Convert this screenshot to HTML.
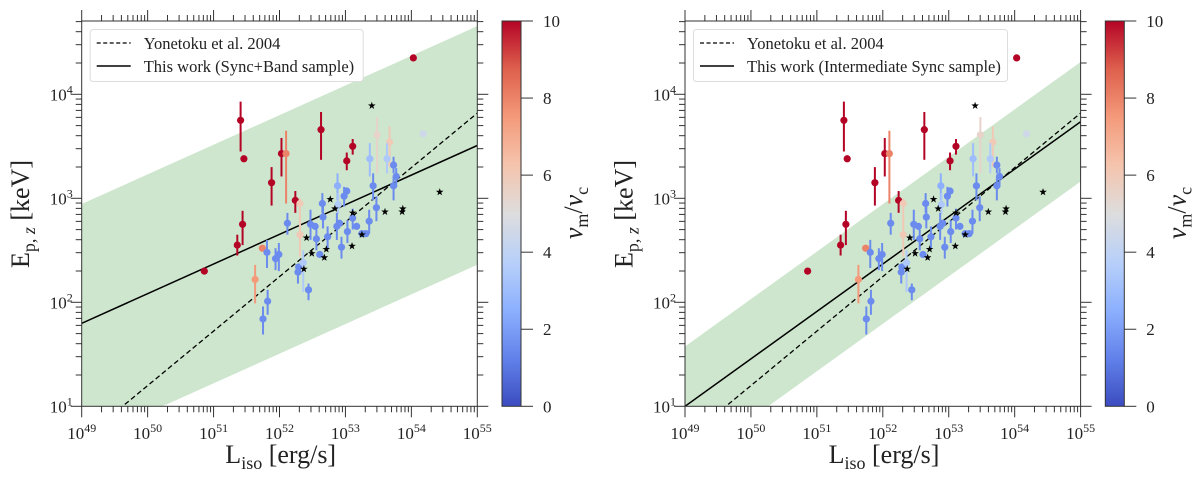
<!DOCTYPE html>
<html><head><meta charset="utf-8">
<style>
html,body{margin:0;padding:0;background:#fff;}
svg{display:block;font-family:"Liberation Serif",serif;}
</style></head>
<body>
<svg id="fig" width="1200" height="478" viewBox="0 0 1200 478" xmlns="http://www.w3.org/2000/svg"></svg>
<script>
// ---- data (log10 L_iso, log10 Ep,z) ----
const logL = [50.86,51.36,51.44,51.41,51.46,51.88,52.03,52.10,52.24,52.63,53.11,53.02,54.03,51.74,51.63,52.31,52.31,53.48,53.67,54.18,
 51.75,51.82,51.81,51.94,51.99,52.12,52.28,52.29,52.36,52.44,52.47,52.54,52.56,52.61,52.65,52.66,52.73,52.88,52.89,52.87,52.91,52.94,52.98,53.02,53.03,53.11,53.17,53.25,53.31,53.36,53.37,53.42,53.47,53.63,53.73,53.77,53.73];
const logE = [2.30,2.55,2.75,3.75,3.38,3.15,3.43,3.43,2.98,3.66,3.50,3.36,4.35,2.52,2.22,2.95,2.65,3.61,3.54,3.62,
 1.84,2.01,2.48,2.42,2.46,2.76,2.29,2.34,2.38,2.12,2.75,2.73,2.61,2.46,2.95,2.82,2.63,3.12,2.94,2.73,2.76,2.53,3.02,3.07,2.68,2.81,2.73,2.66,2.66,2.78,3.38,3.12,2.91,3.38,3.32,3.21,3.12];
const errHi = [2.33,2.65,2.88,3.93,3.40,3.30,3.58,3.65,3.07,3.83,3.57,3.44,4.38,2.55,2.36,3.00,2.84,3.78,3.69,3.65,
 1.96,2.12,2.60,2.52,2.57,2.86,2.34,2.34,2.50,2.18,2.89,2.73,2.70,2.46,3.05,2.92,2.73,3.24,3.05,2.86,2.76,2.63,3.11,3.07,2.79,2.90,2.73,2.66,2.66,2.89,3.53,3.24,3.02,3.53,3.40,3.29,3.21];
const errLo = [2.27,2.45,2.55,3.45,3.36,2.93,3.21,2.95,2.86,3.37,3.42,3.27,4.32,2.49,1.99,2.70,2.44,3.24,3.30,3.59,
 1.69,1.88,2.33,2.31,2.30,2.65,2.18,2.34,2.10,2.02,2.60,2.73,2.50,2.46,2.86,2.71,2.52,2.98,2.85,2.60,2.76,2.42,2.92,3.07,2.57,2.70,2.73,2.66,2.66,2.66,3.21,2.98,2.78,3.24,3.24,3.11,2.98];
const nuRatio = [10,10,10,10,10,10,10,8,10,10,10,10,10,8,7.5,6,6,5.5,6,4.5,
 1.5,1.5,1.5,1.5,1.5,1.5,1.5,1.5,3.5,1.5,1.5,1.5,1.5,1.5,1.5,1.5,1.5,2.5,3.5,1.5,1.5,1.5,1.5,1.5,1.5,1.5,1.5,1.5,1.5,1.5,3,1.5,1.5,3.5,1.5,1.5,1.5];
const starL = [53.40,52.77,52.84,53.11,53.60,53.87,53.86,54.43,52.41,52.49,52.37,52.71,52.68,53.10,53.25];
const starE = [3.89,2.99,2.90,2.86,2.87,2.90,2.87,3.06,2.62,2.47,2.32,2.51,2.43,2.54,2.65];
// fits: [intercept at logL=49, slope]
const yonetokuFit = [0.675, 0.524];
const leftFit = [1.798, 0.285];
const rightFit = [1.0, 0.456];
const bandHalfWidth = [1.147, 0.575];
const xTicks = [49,50,51,52,53,54,55];
const yTicks = [1,2,3,4];
const cbTicks = [0,2,4,6,8,10];

const NS = "http://www.w3.org/2000/svg";
const svg = document.getElementById('fig');
function mk(tag, attrs, parent){const e=document.createElementNS(NS,tag);for(const k in attrs)e.setAttribute(k,attrs[k]);(parent||svg).appendChild(e);return e;}

const CW=[[59,76,192],[98,130,234],[141,176,254],[184,208,249],[221,221,221],[245,196,173],[244,154,123],[222,96,77],[180,4,38]];
function cmap(v){let t=Math.max(0,Math.min(1,v/10))*8;let i=Math.min(7,Math.floor(t));let f=t-i;const a=CW[i],b=CW[i+1];return 'rgb('+a.map((c,k)=>Math.round(c+(b[k]-c)*f)).join(',')+')';}

const Y0=406.3, Y1=21, W=395.6, YMAX=1+(Y0-Y1)/104;
function panel(ox, fit, band, title, idx){
  const x0=81.7+ox;
  const sx=l=>x0+(l-49)/6*W;
  const sy=e=>Y0-(e-1)*104;
  const g=mk('g',{});
  
  
  const clip=mk('clipPath',{id:'clip'+idx},g);
  mk('rect',{x:x0,y:Y1,width:W,height:Y0-Y1},clip);
  const pg=mk('g',{'clip-path':'url(#clip'+idx+')'},g);
  // band
  const f=l=>fit[0]+fit[1]*(l-49);
  const bp=mk('polygon',{points:[[sx(49),sy(f(49)+band)],[sx(55),sy(f(55)+band)],[sx(55),sy(f(55)-band)],[sx(49),sy(f(49)-band)]].map(p=>p.join(',')).join(' '),fill:'#cde6cd'},pg);
  
  
  const yf=l=>yonetokuFit[0]+yonetokuFit[1]*(l-49);
  const dl=mk('line',{x1:sx(49),y1:sy(yf(49)),x2:sx(55),y2:sy(yf(55)),stroke:'#000','stroke-width':1.3,'stroke-dasharray':'5,3'},pg);
  
  
  const sl=mk('line',{x1:sx(49),y1:sy(f(49)),x2:sx(55),y2:sy(f(55)),stroke:'#000','stroke-width':1.5},pg);
  
  
  // points
  for(let i=0;i<logL.length;i++){
    const c=cmap(nuRatio[i]);
    const eb=mk('line',{x1:sx(logL[i]),x2:sx(logL[i]),y1:sy(errHi[i]),y2:sy(errLo[i]),stroke:c,'stroke-width':2},pg);
    
    
    const p=mk('circle',{cx:sx(logL[i]),cy:sy(logE[i]),r:3.6,fill:c},pg);
    
    
  }
  for(let i=0;i<starL.length;i++){
    const cx=sx(starL[i]),cy=sy(starE[i]);let pts=[];
    for(let k=0;k<10;k++){const r=k%2?1.6:4;const a=-Math.PI/2+k*Math.PI/5;pts.push((cx+r*Math.cos(a)).toFixed(1)+','+(cy+r*Math.sin(a)).toFixed(1));}
    const s=mk('polygon',{points:pts.join(' '),fill:'#000'},pg);
    
    
  }
  // frame
  const fr=mk('rect',{x:x0,y:Y1,width:W,height:Y0-Y1,fill:'none',stroke:'#333','stroke-width':1},g);
  
  
  // x ticks
  for(let d=49;d<=55;d++){
    for(let m=1;m<=9;m++){
      if(d===55&&m>1)break;
      const x=sx(d+Math.log10(m));const L=m===1?11:6;
      mk('line',{x1:x,x2:x,y1:Y0,y2:Y0+L,stroke:'#333'},g);
      mk('line',{x1:x,x2:x,y1:Y1,y2:Y1-L,stroke:'#333'},g);
    }
  }
  xTicks.forEach(d=>{
    const t=mk('text',{x:sx(d),y:439,'text-anchor':'middle','font-size':17,fill:'#222'},g);
    
    
    t.innerHTML='10<tspan dy="-7" font-size="12">'+d+'</tspan>';
  });
  for(let d=1;d<=4;d++){
    for(let m=1;m<=9;m++){
      const v=d+Math.log10(m);if(v>YMAX)break;
      const y=sy(v);const L=m===1?11:6;
      mk('line',{x1:x0-L,x2:x0,y1:y,y2:y,stroke:'#333'},g);
      mk('line',{x1:x0+W,x2:x0+W+L,y1:y,y2:y,stroke:'#333'},g);
    }
  }
  yTicks.forEach(d=>{
    const t=mk('text',{x:x0-9,y:sy(d)+6,'text-anchor':'end','font-size':17,fill:'#222'},g);
    
    
    t.innerHTML='10<tspan dy="-7" font-size="12">'+d+'</tspan>';
  });
  const xt=mk('text',{x:x0+199,y:463,'text-anchor':'middle','font-size':26,fill:'#222'},g);
  
  
  xt.innerHTML='L<tspan dy="6" font-size="18">iso</tspan><tspan dy="-6"> [erg/s]</tspan>';
  const yt=mk('text',{x:0,y:0,transform:'translate('+(ox+29)+',214) rotate(-90)','text-anchor':'middle','font-size':26,fill:'#222'},g);
  
  
  yt.innerHTML='E<tspan dy="6" font-size="18">p, <tspan font-style="italic">z</tspan></tspan><tspan dy="-6"> [keV]</tspan>';
  // legend
  const lg=mk('g',{},g);
  
  
  const lw=idx===0?273:314;
  mk('rect',{x:x0+8.5,y:29.5,width:lw,height:52,rx:3,fill:'#fff',stroke:'#ddd'},lg);
  mk('line',{x1:x0+15,x2:x0+49,y1:43,y2:43,stroke:'#000','stroke-width':1.3,'stroke-dasharray':'4,2.5'},lg);
  mk('line',{x1:x0+15,x2:x0+49,y1:66,y2:66,stroke:'#000','stroke-width':1.5},lg);
  const t1=mk('text',{x:x0+62,y:49,'font-size':16.5,fill:'#222'},lg);t1.textContent='Yonetoku et al. 2004';
  
  
  const t2=mk('text',{x:x0+62,y:72,'font-size':16.5,fill:'#222'},lg);t2.textContent=title;
  
  
  // colorbar
  const cx=502+ox;
  const defs=mk('defs',{},g);
  const gr=mk('linearGradient',{id:'cg'+idx,x1:0,y1:1,x2:0,y2:0},defs);
  CW.forEach((c,k)=>mk('stop',{offset:(k/8),'stop-color':'rgb('+c.join(',')+')'},gr));
  const cb=mk('rect',{x:cx,y:Y1,width:19,height:Y0-Y1,fill:'url(#cg'+idx+')',stroke:'#333'},g);
  
  
  cbTicks.forEach(v=>{
    const y=Y0-(v/10)*(Y0-Y1);
    mk('line',{x1:cx+19,x2:cx+31,y1:y,y2:y,stroke:'#333'},g);
    const t=mk('text',{x:cx+41,y:y+6,'font-size':17,fill:'#222'},g);
    t.textContent=v;
    
    
  });
  const ct=mk('text',{x:0,y:0,transform:'translate('+(cx+80)+',213) rotate(-90)','text-anchor':'middle','font-size':26,fill:'#222'},g);
  
  
  ct.innerHTML='<tspan font-style="italic">ν</tspan><tspan dy="6" font-size="18">m</tspan><tspan dy="-6">/</tspan><tspan font-style="italic">ν</tspan><tspan dy="6" font-size="18">c</tspan>';
}
panel(0, leftFit, bandHalfWidth[0], 'This work (Sync+Band sample)', 0);
panel(603.3, rightFit, bandHalfWidth[1], 'This work (Intermediate Sync sample)', 1);
</script>
</body></html>
